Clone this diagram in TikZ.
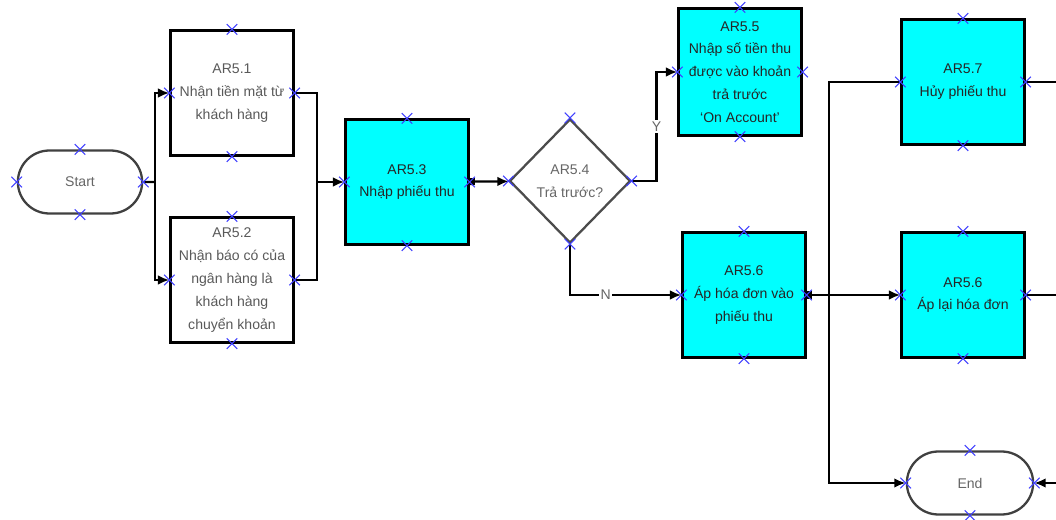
\documentclass[tikz,border=0pt]{standalone}
\usepackage{fontspec}
\setmainfont{Liberation Sans}
\usetikzlibrary{shapes.geometric,shapes.misc,arrows.meta}
\definecolor{aqua}{RGB}{0,255,255}

\begin{document}
\begin{tikzpicture}[x=0.02cm, y=-0.02cm, line width=1.3pt,
    task_style/.style = {draw, rectangle, align=center, minimum width=2.46cm,
        minimum height=2.5cm, inner sep=0pt, text=black!65,
        font=\fontsize{8}{13}\selectfont},
    work_style/.style = {task_style, fill=aqua, text=black!85},
    term_style/.style = {draw=black!75, rounded rectangle, minimum width=2.72cm,
        minimum height=1.26cm, text=black!60, font=\fontsize{8}{13}\selectfont},
    decision_style/.style = {draw=black!70, diamond, minimum width=2.42cm,
        minimum height=2.48cm, inner sep=0pt, align=center, text=black!60,
        font=\fontsize{8}{13}\selectfont},
    label_style/.style = {fill=white, inner sep=1pt, text=black!60,
        font=\fontsize{8}{9}\selectfont},
    conn_mark/.style = {draw=blue!75, cross out, line width=0.6pt,
        minimum size=0.19cm, inner sep=0pt},
    flow/.style = {-{Latex[length=6.5pt,width=5.5pt]}}]

\useasboundingbox (0,0) rectangle (1056,520);
\clip (0,0) rectangle (1056,520);

% start and the two ways money comes in
\node[term_style] (start) at (80,182) {Start};
\node[task_style] (ar51) at (232,93) {AR5.1\\Nhận tiền mặt từ\\khách hàng};
\node[task_style] (ar52) at (232,280) {AR5.2\\Nhận báo có của\\ngân hàng là\\khách hàng\\chuyển khoản};

% receipt entry and decision
\node[work_style] (ar53) at (407,182) {AR5.3\\Nhập phiếu thu};
\node[decision_style] (ar54) at (570,181) {AR5.4\\Trả trước?};

\node[work_style, minimum height=2.54cm] (ar55) at (740,72) {AR5.5\\Nhập số tiền thu\\được vào khoản\\trả trước\\`On Account'};
\node[work_style] (ar56) at (744,295) {AR5.6\\Áp hóa đơn vào\\phiếu thu};

% right column
\node[work_style] (ar57) at (963,82) {AR5.7\\Hủy phiếu thu};
\node[work_style] (ar56b) at (963,295) {AR5.6\\Áp lại hóa đơn};
\node[term_style, minimum width=2.76cm] (endnode) at (970,483) {End};

% start -> AR5.1 / AR5.2
\coordinate (split) at (155,182);
\draw (start) -- (split);
\draw[flow] (split) |- (ar51);
\draw[flow] (split) |- (ar52);

% AR5.1 / AR5.2 -> AR5.3
\coordinate (merge) at (317,182);
\draw (ar51) -| (merge);
\draw (ar52) -| (merge);
\draw[flow] (merge) -- (ar53);

% AR5.3 -> decision
\draw[{Square[length=3pt,width=4pt]}-{Latex[length=6.5pt,width=5.5pt]}] (ar53) -- (ar54);

% yes / no branches
\draw[flow] (ar54.east) -- ++(25,0) |- node[pos=0.25, label_style] {Y} (ar55);
\draw[flow] (ar54.south) |- node[pos=0.66, label_style] {N} (ar56);

% AR5.6 -> re-apply
\draw[{Square[length=3pt,width=4pt]}-{Latex[length=6.5pt,width=5.5pt]}] (ar56) -- (ar56b);

% left bus: AR5.7 -> End
\coordinate (bus_left) at (829,82);
\draw[flow] (ar57) -- (bus_left) |- (endnode);

% right bus: AR5.7 / re-apply -> End
\coordinate (bus_right) at (1062,82);
\coordinate (bus_right_mid) at (1062,295);
\draw[flow] (ar57) -- (bus_right) |- (endnode);
\draw (ar56b) -- (bus_right_mid);

% connection points
\foreach \n in {start,ar51,ar52,ar53,ar54,ar55,ar56,ar57,ar56b,endnode}
    \foreach \a in {north,south,east,west}
        \node[conn_mark] at (\n.\a) {};

\end{tikzpicture}
\end{document}
